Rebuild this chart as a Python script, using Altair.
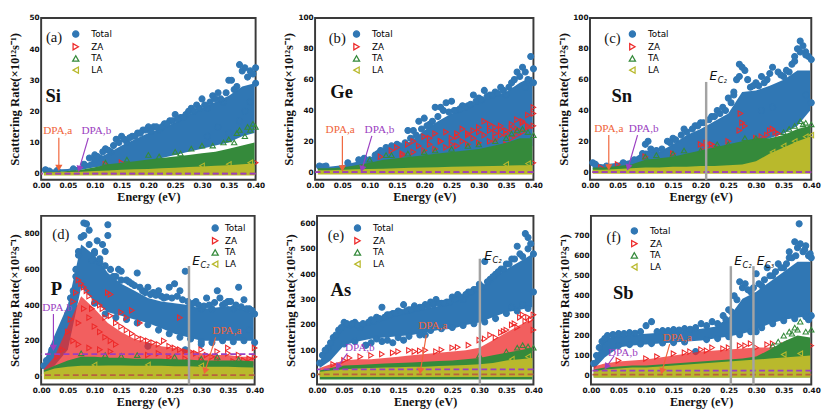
import math
import altair as alt
import pandas as pd

# ---------------- shared values ----------------
E = [0.005, 0.025, 0.05, 0.075, 0.1, 0.125, 0.15, 0.175, 0.2, 0.225, 0.25, 0.275, 0.3, 0.325, 0.35, 0.375, 0.398]
XTICKS = [0.0, 0.05, 0.1, 0.15, 0.2, 0.25, 0.3, 0.35, 0.4]
SERIES = ["Total", "ZA", "TA", "LA"]
COLORS = ["#3077b4", "#ee2a2a", "#358a3b", "#b9b92c"]
FILLS = ["#3077b4", "transparent", "transparent", "transparent"]
SHAPES = ["circle", "triangle-right", "triangle-up", "triangle-left"]
ORANGE = "#f0643a"
PURPLE = "#9b3fc1"
BROWN = "#b8623e"
GRAY = "#a3a3a3"
YTITLE = "Scattering Rate(×10¹²s⁻¹)"

# ---------------- (a) Si ----------------
si_total_lo = [0.5, 0.5, 0.8, 1.2, 2, 2.5, 3, 3.5, 4, 5, 6, 7, 8, 9, 10, 12, 13]
si_total_hi = [1.5, 1.3, 1.5, 2.5, 4.5, 6.5, 9, 11, 13, 14.5, 16.5, 19, 21, 23, 25, 28, 29]
si_total_x = [0.008, 0.015, 0.03, 0.06, 0.08, 0.09, 0.1, 0.11, 0.12, 0.13, 0.14, 0.15, 0.16, 0.17, 0.18,
              0.19, 0.2, 0.21, 0.22, 0.23, 0.24, 0.25, 0.26, 0.27, 0.28, 0.29, 0.3, 0.31, 0.32, 0.33,
              0.34, 0.35, 0.355, 0.36, 0.365, 0.37, 0.375, 0.38, 0.385, 0.39, 0.395, 0.4, 0.4, 0.39, 0.38,
              0.37, 0.35, 0.33, 0.31]
si_total_y = [1.2, 0.8, 1, 1.5, 3, 5, 6, 5, 8, 7, 11, 12, 10, 12, 13,
              14, 15, 15, 14, 16, 17, 19, 18, 19, 21, 22, 24, 21, 25, 26,
              23, 30, 30, 27, 28, 35, 33, 34, 31, 33, 32, 34, 29, 23, 20,
              17, 13, 15, 12]
si_edge_x = [0.1, 0.105, 0.115, 0.125, 0.135, 0.145, 0.155, 0.165, 0.175, 0.185, 0.195, 0.205, 0.215,
             0.225, 0.235, 0.245, 0.255, 0.265, 0.275, 0.285, 0.295, 0.305, 0.315, 0.325, 0.335, 0.345]
si_edge_y = [4.5, 5.5, 7, 7.5, 9, 10, 11, 11.5, 12, 13, 14, 13.5, 15,
             15, 16, 17, 17.5, 18, 20, 20, 21, 22, 23, 24, 24, 26]
si_za_x = [0.12, 0.15, 0.2, 0.28, 0.3, 0.33, 0.36, 0.37, 0.375, 0.38, 0.39, 0.4]
si_za_y = [3, 3.5, 2.5, 3, 1.8, 2.5, 2.5, 2, 2.2, 2.8, 3.2, 3.5]
si_ta_lo = [0, 0, 0, 0, 0, 0, 0, 0, 0, 0, 0, 0, 0, 0, 0, 0, 0]
si_ta_hi = [0.6, 0.6, 0.8, 1.2, 2, 3, 3.5, 4, 4.5, 5, 5.5, 6, 6.5, 7, 8, 9, 10]
si_ta_x = [0.2, 0.25, 0.28, 0.3, 0.32, 0.34, 0.35, 0.36, 0.365, 0.37, 0.38, 0.385, 0.39, 0.395, 0.4,
           0.12, 0.16, 0.22, 0.26]
si_ta_y = [6, 7, 8, 9, 9, 10, 11, 10, 13, 14, 12, 15, 14, 16, 15,
           3.5, 4.5, 5.5, 6.5]
si_la_lo = [-0.6, -0.6, -0.6, -0.6, -0.6, -0.6, -0.6, -0.6, -0.6, -0.6, -0.6, -0.6, -0.6, -0.6, -0.6, -0.6, -0.6]
si_la_hi = [0.3, 0.4, 0.5, 0.6, 0.8, 1, 1.2, 1.4, 1.5, 1.7, 1.9, 2.1, 2.3, 2.5, 2.7, 3, 3.2]
si_la_x = [0.3, 0.35, 0.39]
si_la_y = [2.5, 3, 3.5]

# ---------------- (b) Ge ----------------
ge_total_lo = [1.5, 1.5, 2, 3, 4, 6, 7, 8, 9, 10, 11, 12, 13, 14, 15, 16, 17]
ge_total_hi = [4.5, 3.5, 4.5, 6.5, 9, 13, 16, 20, 27, 33, 38, 41, 46, 49, 52, 58, 62]
ge_total_x = [0.008, 0.015, 0.02, 0.06, 0.08, 0.09, 0.1, 0.12, 0.13, 0.14, 0.15, 0.17, 0.18, 0.19, 0.2,
              0.21, 0.22, 0.23, 0.24, 0.25, 0.26, 0.27, 0.28, 0.29, 0.3, 0.31, 0.32, 0.33, 0.34, 0.35,
              0.36, 0.365, 0.37, 0.375, 0.38, 0.385, 0.39, 0.395, 0.4, 0.4, 0.385]
ge_total_y = [4, 3.5, 4, 6, 8, 9, 8, 14, 16, 17, 18, 27, 27, 33, 35,
              31, 42, 42, 45, 46, 40, 43, 43, 50, 48, 53, 50, 52, 55, 50,
              58, 60, 65, 62, 68, 65, 60, 75, 67, 58, 55]
ge_edge_x = [0.11, 0.115, 0.125, 0.135, 0.145, 0.155, 0.165, 0.175, 0.185, 0.195, 0.205, 0.215, 0.225,
             0.235, 0.245, 0.255, 0.265, 0.275, 0.285, 0.295, 0.305, 0.315, 0.325, 0.335, 0.345, 0.355]
ge_edge_y = [11, 12, 13, 15, 16, 17, 19, 22, 24, 28, 30, 33, 36,
             40, 39, 40, 41, 42, 44, 46, 47, 49, 50, 51, 53, 55]
ge_za_x = [0.12, 0.14, 0.15, 0.16, 0.17, 0.18, 0.19, 0.2, 0.21, 0.22, 0.23, 0.24, 0.25, 0.26, 0.27,
           0.28, 0.29, 0.3, 0.31, 0.32, 0.33, 0.34, 0.35, 0.36, 0.37, 0.38, 0.39, 0.4, 0.4, 0.38,
           0.36, 0.34, 0.32, 0.3, 0.28, 0.26, 0.24, 0.22, 0.2, 0.18, 0.16, 0.3, 0.35, 0.4,
           0.33, 0.37, 0.39, 0.35,
           0.25, 0.27, 0.29, 0.31, 0.33, 0.35, 0.37, 0.39, 0.26, 0.28, 0.3, 0.32, 0.34, 0.36, 0.38, 0.4,
           0.21, 0.23]
ge_za_y = [10, 14, 16, 12, 18, 20, 17, 23, 22, 25, 20, 26, 22, 25, 28,
           24, 27, 26, 33, 31, 29, 30, 25, 28, 34, 32, 37, 38, 42, 26,
           22, 24, 20, 19, 18, 17, 16, 15, 14, 13, 11, 4, 5, 6,
           21, 24, 30, 18,
           18, 20, 22, 24, 25, 27, 28, 29, 23, 25, 29, 27, 28, 31, 33, 30,
           18, 20]
ge_ta_lo = [0, 0, 0, 0, 0, 0, 0, 0, 0, 0, 0, 0, 0, 0, 0, 0, 0]
ge_ta_hi = [2.5, 2.5, 3, 4.5, 6, 8, 9, 10, 11, 12, 13, 14, 15, 17, 19, 22, 22]
ge_ta_x = [0.1, 0.13, 0.2, 0.25, 0.3, 0.33, 0.35, 0.36, 0.37, 0.38, 0.39, 0.4, 0.14, 0.17, 0.22, 0.28]
ge_ta_y = [8, 11, 13, 15, 18, 20, 22, 25, 27, 28, 26, 24, 11, 12, 14, 17]
ge_la_lo = [-1.5, -1.5, -1.5, -1.5, -1.5, -1.5, -1.5, -1.5, -1.5, -1.5, -1.5, -1.5, -1.5, -1.5, -1.5, -1.5, -1.5]
ge_la_hi = [1.2, 1.2, 1.5, 1.8, 2, 2.2, 2.5, 2.8, 3, 3.2, 3.4, 3.6, 3.8, 4, 4.2, 4.5, 4.5]
ge_la_x = [0.35, 0.39]
ge_la_y = [5, 5.5]

# ---------------- (c) Sn ----------------
sn_total_lo = [2, 2, 3, 4, 6, 7, 8, 10, 12, 14, 16, 18, 20, 22, 25, 30, 40]
sn_total_hi = [6, 5, 6, 8, 14, 13, 18, 24, 28, 33, 38, 52, 53, 56, 60, 66, 66]
sn_total_x = [0.005, 0.01, 0.03, 0.06, 0.08, 0.095, 0.1, 0.105, 0.12, 0.14, 0.15, 0.17, 0.19, 0.2, 0.22,
              0.23, 0.24, 0.25, 0.26, 0.265, 0.27, 0.275, 0.28, 0.29, 0.3, 0.31, 0.32, 0.33, 0.34, 0.35,
              0.36, 0.37, 0.375, 0.38, 0.385, 0.39, 0.395, 0.4, 0.4, 0.39, 0.33, 0.31]
sn_total_y = [6, 5, 4, 6, 8, 12, 18, 20, 14, 20, 22, 28, 30, 32, 36,
              40, 42, 48, 50, 60, 70, 68, 66, 55, 58, 62, 60, 68, 65, 62,
              65, 72, 80, 85, 82, 78, 75, 73, 45, 50, 42, 40]
sn_edge_x = [0.11, 0.13, 0.145, 0.155, 0.165, 0.175, 0.185, 0.195, 0.205, 0.215, 0.225, 0.235, 0.245,
             0.255, 0.26, 0.27, 0.285, 0.295, 0.305, 0.315, 0.325, 0.345, 0.355, 0.365, 0.37, 0.38, 0.39]
sn_edge_y = [15, 15, 19, 21, 24, 26, 28, 30, 32, 34, 36, 38, 40,
             45, 52, 62, 60, 56, 56, 58, 64, 63, 66, 70, 75, 78, 76]
sn_za_x = [0.02, 0.05, 0.1, 0.15, 0.2, 0.21, 0.215, 0.22, 0.25, 0.27, 0.272, 0.275, 0.28, 0.3, 0.32,
           0.325, 0.33, 0.335, 0.35, 0.36, 0.37, 0.38, 0.3, 0.25, 0.205, 0.225, 0.31, 0.34]
sn_za_y = [3, 5, 10, 12, 18, 19, 17, 18, 20, 27, 38, 32, 30, 22, 24,
           27, 28, 26, 20, 22, 20, 22, 3, 2, 16, 17, 23, 25]
sn_ta_lo = [0, 0, 0, 0, 0, 0, 0, 0, 0, 0, 0, 0, 0, 0, 0, 0, 0]
sn_ta_hi = [3, 3, 4, 5, 8, 9, 10, 12, 14, 16, 18, 20, 22, 22, 24, 28, 30]
sn_ta_x = [0.1, 0.15, 0.2, 0.25, 0.28, 0.3, 0.35, 0.36, 0.37, 0.38, 0.385, 0.39, 0.4, 0.12, 0.17, 0.23]
sn_ta_y = [10, 12, 14, 18, 22, 22, 26, 28, 30, 33, 31, 32, 31, 11, 14, 18]
sn_la_lo = [-1, -1, -1, -1, -1, -1, -1, -1, -1, -1, -1, -1, -1, -1, -1, -1, -1]
sn_la_hi = [1.5, 1.5, 2, 2.5, 3, 3, 3.5, 3.5, 4, 4, 4.5, 5, 7, 12, 16, 20, 23]
sn_la_x = [0.33, 0.35, 0.37, 0.39, 0.4]
sn_la_y = [13, 17, 20, 23, 24]

# ---------------- (d) P ----------------
p_total_lo = [30, 60, 150, 500, 420, 360, 340, 320, 300, 270, 240, 220, 200, 200, 200, 200, 200]
p_total_hi = [80, 230, 400, 740, 680, 580, 520, 480, 440, 420, 410, 400, 380, 385, 395, 380, 350]
p_total_x = [0.005, 0.01, 0.02, 0.03, 0.04, 0.05, 0.06, 0.065, 0.07, 0.075, 0.08, 0.085, 0.09, 0.095, 0.1,
             0.105, 0.11, 0.115, 0.12, 0.125, 0.125, 0.13, 0.14, 0.145, 0.15, 0.16, 0.17, 0.18, 0.19, 0.2,
             0.21, 0.22, 0.23, 0.24, 0.25, 0.26, 0.27, 0.28, 0.29, 0.3, 0.31, 0.32, 0.33, 0.335, 0.34,
             0.35, 0.36, 0.37, 0.38, 0.39, 0.4, 0.27, 0.2, 0.3, 0.39]
p_total_y = [60, 90, 150, 200, 260, 350, 480, 560, 700, 780, 860, 855, 820, 650, 700,
             760, 640, 740, 700, 850, 790, 600, 560, 600, 590, 540, 520, 580, 480, 500,
             470, 480, 440, 500, 520, 480, 590, 400, 420, 380, 440, 380, 480, 440, 400,
             420, 380, 500, 430, 380, 350, 150, 170, 180, 260]
p_edge_x = [0.055, 0.065, 0.07, 0.08, 0.09, 0.1, 0.11, 0.12, 0.135, 0.15, 0.165, 0.175, 0.185, 0.195,
            0.205, 0.215, 0.225, 0.235, 0.245, 0.255, 0.265, 0.275, 0.285, 0.295, 0.305, 0.315, 0.325,
            0.345, 0.355, 0.365, 0.375, 0.385, 0.395,
            0.1, 0.12, 0.14, 0.16, 0.18, 0.2, 0.22, 0.24, 0.26, 0.28, 0.3, 0.32, 0.34, 0.36, 0.38, 0.4]
p_edge_y = [440, 600, 680, 790, 740, 690, 660, 620, 560, 540, 530, 510, 500, 470,
            460, 455, 450, 445, 440, 450, 430, 420, 410, 400, 395, 400, 415,
            410, 420, 400, 390, 380, 370,
            410, 350, 330, 320, 300, 290, 260, 240, 220, 210, 195, 190, 200, 195, 200, 190]
p_za_lo = [25, 40, 60, 80, 90, 90, 90, 80, 80, 70, 70, 60, 60, 60, 60, 60, 60]
p_za_hi = [40, 110, 280, 450, 380, 300, 250, 210, 190, 170, 160, 150, 130, 120, 120, 110, 110]
p_za_x = [0.03, 0.04, 0.05, 0.055, 0.06, 0.065, 0.07, 0.075, 0.08, 0.085, 0.09, 0.095, 0.1, 0.11, 0.115,
          0.12, 0.125, 0.13, 0.13, 0.14, 0.15, 0.15, 0.16, 0.16, 0.17, 0.17, 0.18, 0.185, 0.19, 0.2,
          0.21, 0.22, 0.23, 0.24, 0.25, 0.26, 0.26, 0.27, 0.28, 0.29, 0.3, 0.31, 0.32, 0.33, 0.35,
          0.35, 0.37, 0.39, 0.4, 0.4,
          0.06, 0.07, 0.08, 0.09, 0.1, 0.11, 0.12, 0.13, 0.14, 0.07, 0.09, 0.11, 0.13, 0.2, 0.22,
          0.24, 0.27, 0.3, 0.33, 0.36, 0.38]
p_za_y = [110, 150, 250, 320, 420, 470, 540, 520, 500, 480, 450, 380, 420, 400, 380,
          330, 470, 460, 340, 300, 280, 360, 260, 330, 240, 370, 220, 300, 210, 200,
          190, 180, 200, 170, 160, 330, 150, 140, 140, 130, 150, 120, 110, 140, 130,
          160, 120, 100, 160, 110,
          200, 300, 380, 330, 280, 250, 220, 200, 180, 180, 160, 150, 140, 120, 130,
          110, 100, 90, 95, 85, 90]
p_ta_lo = [15, 20, 25, 25, 25, 25, 25, 25, 25, 25, 25, 25, 25, 25, 25, 25, 25]
p_ta_hi = [35, 60, 90, 110, 110, 105, 105, 100, 100, 100, 95, 95, 90, 90, 90, 90, 85]
p_ta_x = [0.075, 0.12, 0.15, 0.18, 0.25, 0.3, 0.33, 0.37]
p_ta_y = [130, 120, 115, 120, 110, 100, 110, 95]
p_la_lo = [-15, -15, -15, -15, -15, -15, -15, -15, -15, -15, -15, -15, -15, -15, -15, -15, -15]
p_la_hi = [25, 45, 55, 60, 60, 62, 62, 60, 60, 60, 58, 58, 55, 55, 55, 52, 50]
p_la_x = [0.1, 0.2, 0.3]
p_la_y = [65, 65, 60]

# ---------------- (e) As ----------------
as_total_lo = [30, 60, 120, 135, 145, 150, 155, 160, 170, 180, 185, 200, 210, 230, 250, 260, 270]
as_total_hi = [55, 140, 200, 195, 210, 225, 240, 255, 265, 275, 290, 315, 345, 385, 420, 450, 480]
as_total_x = [0.005, 0.01, 0.02, 0.03, 0.04, 0.05, 0.06, 0.07, 0.08, 0.09, 0.1, 0.11, 0.12, 0.13, 0.14,
              0.15, 0.16, 0.17, 0.18, 0.19, 0.2, 0.21, 0.22, 0.23, 0.24, 0.25, 0.26, 0.27, 0.28, 0.29,
              0.3, 0.31, 0.32, 0.33, 0.34, 0.35, 0.36, 0.37, 0.38, 0.385, 0.39, 0.395, 0.4, 0.4, 0.09,
              0.1, 0.12, 0.14, 0.16, 0.2, 0.38, 0.36]
as_total_y = [50, 80, 110, 150, 180, 210, 200, 210, 190, 120, 220, 230, 270, 240, 245,
              255, 280, 260, 275, 270, 280, 290, 300, 285, 290, 310, 320, 300, 330, 340,
              360, 450, 380, 400, 420, 440, 460, 510, 470, 560, 545, 520, 480, 330, 120,
              130, 135, 130, 140, 160, 280, 270]
as_edge_x = [0.015, 0.025, 0.035, 0.045, 0.055, 0.065, 0.075, 0.085, 0.095, 0.105, 0.115, 0.125, 0.135,
             0.145, 0.155, 0.165, 0.175, 0.185, 0.195, 0.205, 0.215, 0.225, 0.235, 0.245, 0.255, 0.265,
             0.275, 0.285, 0.295, 0.305, 0.315, 0.325, 0.335, 0.345, 0.355, 0.365, 0.375, 0.39,
             0.05, 0.07, 0.11, 0.13, 0.15, 0.17, 0.19,
             0.21, 0.23, 0.25, 0.27, 0.29, 0.31, 0.33, 0.35, 0.37, 0.39]
as_edge_y = [100, 130, 160, 190, 205, 205, 200, 205, 210, 215, 225, 230, 240,
             245, 250, 255, 260, 265, 270, 275, 280, 285, 285, 290, 300, 310,
             320, 330, 340, 350, 370, 390, 410, 420, 440, 460, 480, 500,
             125, 135, 145, 140, 150, 155, 160,
             178, 185, 190, 198, 205, 212, 225, 245, 255, 265]
as_za_lo = [10, 15, 25, 30, 30, 30, 30, 30, 35, 35, 35, 40, 40, 45, 50, 55, 60]
as_za_hi = [30, 45, 60, 65, 65, 70, 75, 80, 85, 90, 95, 100, 110, 140, 170, 200, 220]
as_za_x = [0.03, 0.05, 0.06, 0.08, 0.1, 0.12, 0.15, 0.17, 0.18, 0.2, 0.22, 0.25, 0.28, 0.3, 0.32,
           0.33, 0.34, 0.35, 0.36, 0.37, 0.375, 0.38, 0.39, 0.395, 0.4, 0.4,
           0.14, 0.19, 0.23, 0.26, 0.31, 0.345, 0.365, 0.385]
as_za_y = [45, 60, 70, 75, 80, 85, 95, 100, 95, 100, 95, 110, 120, 140, 160,
           150, 170, 180, 200, 190, 230, 240, 230, 220, 240, 180,
           90, 98, 102, 112, 145, 175, 205, 215]
as_ta_lo = [-15, -15, -15, -15, -15, -15, -15, -15, -15, -15, -15, -15, -15, -15, -15, -15, -15]
as_ta_hi = [20, 30, 40, 42, 45, 48, 50, 52, 55, 58, 60, 65, 70, 80, 90, 100, 110]
as_ta_x = [0.3, 0.35, 0.37, 0.38, 0.39, 0.4]
as_ta_y = [80, 95, 110, 120, 115, 110]
as_la_lo = [-5, -5, -5, -5, -5, -5, -5, -5, -5, -5, -5, -5, -5, -5, -5, -5, -5]
as_la_hi = [15, 20, 25, 28, 30, 32, 33, 35, 35, 38, 40, 42, 45, 50, 60, 65, 70]
as_la_x = [0.36, 0.39]
as_la_y = [65, 75]

# ---------------- (f) Sb ----------------
sb_total_lo = [30, 90, 140, 150, 155, 160, 165, 170, 175, 185, 195, 210, 230, 260, 280, 290, 300]
sb_total_hi = [70, 185, 200, 205, 210, 215, 220, 225, 235, 245, 290, 385, 420, 470, 520, 570, 570]
sb_total_x = [0.005, 0.01, 0.02, 0.03, 0.05, 0.07, 0.09, 0.1, 0.11, 0.13, 0.15, 0.17, 0.19, 0.2, 0.22,
              0.24, 0.25, 0.26, 0.27, 0.275, 0.28, 0.29, 0.3, 0.31, 0.32, 0.33, 0.34, 0.35, 0.36, 0.37,
              0.375, 0.378, 0.38, 0.39, 0.395, 0.4, 0.4, 0.19, 0.3, 0.395]
sb_total_y = [60, 100, 170, 200, 210, 215, 220, 250, 270, 225, 230, 235, 240, 260, 270,
              300, 330, 400, 470, 440, 460, 420, 510, 450, 540, 500, 560, 540, 620, 670,
              640, 760, 660, 650, 600, 590, 300, 120, 220, 280]
sb_edge_x = [0.015, 0.025, 0.04, 0.06, 0.08, 0.12, 0.14, 0.16, 0.18, 0.21, 0.23, 0.245,
             0.255, 0.265, 0.285, 0.295, 0.305, 0.315, 0.325, 0.335, 0.345, 0.355, 0.365, 0.385,
             0.372, 0.388, 0.398, 0.36,
             0.05, 0.07, 0.09, 0.11, 0.13, 0.15, 0.17, 0.21, 0.23, 0.25, 0.27, 0.29, 0.31, 0.33,
             0.35, 0.37, 0.39]
sb_edge_y = [140, 185, 205, 210, 212, 220, 225, 228, 232, 250, 260, 280,
             320, 380, 430, 440, 460, 480, 500, 520, 540, 560, 590, 620,
             600, 630, 610, 590,
             150, 155, 158, 160, 163, 165, 168, 180, 185, 195, 205, 220, 240, 260,
             275, 285, 295]
sb_za_lo = [20, 30, 35, 40, 40, 40, 45, 45, 50, 50, 55, 55, 60, 60, 60, 60, 60]
sb_za_hi = [45, 60, 70, 75, 80, 90, 100, 110, 120, 125, 130, 135, 140, 140, 150, 150, 160]
sb_za_x = [0.05, 0.1, 0.15, 0.18, 0.2, 0.22, 0.25, 0.27, 0.29, 0.3, 0.33, 0.35, 0.37, 0.38, 0.4,
           0.12, 0.17, 0.21, 0.24, 0.28, 0.32, 0.36, 0.39]
sb_za_y = [75, 85, 110, 120, 130, 140, 140, 150, 160, 140, 160, 150, 170, 160, 150,
           95, 115, 125, 135, 150, 155, 160, 165]
sb_ta_lo = [-10, -10, -10, -10, -10, -10, -10, -10, -10, -10, -10, -10, -10, -10, -10, -10, -10]
sb_ta_hi = [30, 40, 45, 50, 50, 55, 60, 65, 70, 75, 80, 85, 95, 130, 170, 200, 190]
sb_ta_x = [0.33, 0.34, 0.35, 0.36, 0.365, 0.37, 0.375, 0.38, 0.39, 0.4]
sb_ta_y = [150, 170, 200, 220, 210, 240, 230, 270, 220, 230]
sb_la_lo = [-10, -10, -10, -10, -10, -10, -10, -10, -10, -10, -10, -10, -10, -10, -10, -10, -10]
sb_la_hi = [20, 30, 35, 40, 40, 45, 50, 55, 60, 65, 70, 75, 80, 85, 90, 95, 100]
sb_la_x = [0.35, 0.38]
sb_la_y = [105, 110]

# ---------------- per-panel settings ----------------
panels = {
    "a": dict(name="Si", label="(a)", w=220, h=166, ydom=(-2, 50), yticks=[0, 10, 20, 30, 40, 50],
              bands={"Total": (si_total_lo, si_total_hi), "TA": (si_ta_lo, si_ta_hi), "LA": (si_la_lo, si_la_hi)},
              points={"Total": (si_total_x + si_edge_x, si_total_y + si_edge_y), "ZA": (si_za_x, si_za_y),
                      "TA": (si_ta_x, si_ta_y), "LA": (si_la_x, si_la_y)},
              dpa=(0.0, 0.0), label_pos=(0.009, 44), name_pos=(0.008, 25),
              dpa_text=[(0.031, 13.5), (0.103, 13.5)],
              arrows=[(0.033, 11.5, 0.033, 1.8), (0.088, 11.5, 0.071, 1.5)],
              ec=[], leg=(35, 17, 0, 11.5)),
    "b": dict(name="Ge", label="(b)", w=224, h=166, ydom=(-5, 100), yticks=[0, 20, 40, 60, 80, 100],
              bands={"Total": (ge_total_lo, ge_total_hi), "TA": (ge_ta_lo, ge_ta_hi), "LA": (ge_la_lo, ge_la_hi)},
              points={"Total": (ge_total_x + ge_edge_x, ge_total_y + ge_edge_y), "ZA": (ge_za_x, ge_za_y),
                      "TA": (ge_ta_x, ge_ta_y), "LA": (ge_la_x, ge_la_y)},
              dpa=(0.0, 0.0), label_pos=(0.025, 87), name_pos=(0.028, 52),
              dpa_text=[(0.046, 27), (0.118, 27)],
              arrows=[(0.05, 23.5, 0.05, 2.4), (0.104, 23.5, 0.086, 2)],
              ec=[], leg=(42, 17, 0, 11.5)),
    "c": dict(name="Sn", label="(c)", w=227, h=166, ydom=(-5, 100), yticks=[0, 20, 40, 60, 80, 100],
              bands={"Total": (sn_total_lo, sn_total_hi), "TA": (sn_ta_lo, sn_ta_hi), "LA": (sn_la_lo, sn_la_hi)},
              points={"Total": (sn_total_x + sn_edge_x, sn_total_y + sn_edge_y), "ZA": (sn_za_x, sn_za_y),
                      "TA": (sn_ta_x, sn_ta_y), "LA": (sn_la_x, sn_la_y)},
              dpa=(0.0, 0.0), label_pos=(0.026, 87), name_pos=(0.039, 49),
              dpa_text=[(0.034, 28), (0.097, 28)],
              arrows=[(0.034, 24, 0.034, 3), (0.086, 24, 0.069, 3)],
              ec=[(0.21, 58.5, 0.216, 62, "C₂")], leg=(43, 17, 0, 11.5)),
    "d": dict(name="P", label="(d)", w=219, h=173, ydom=(-45, 900), yticks=[0, 200, 400, 600, 800],
              bands={"Total": (p_total_lo, p_total_hi), "ZA": (p_za_lo, p_za_hi),
                     "TA": (p_ta_lo, p_ta_hi), "LA": (p_la_lo, p_la_hi)},
              points={"Total": (p_total_x + p_edge_x, p_total_y + p_edge_y), "ZA": (p_za_x, p_za_y),
                      "TA": (p_ta_x, p_ta_y), "LA": (p_la_x, p_la_y)},
              dpa=(8, 125), label_pos=(0.021, 795), name_pos=(0.018, 490),
              dpa_text=[(0.348, 252), (0.03, 385)],
              arrows=[(0.327, 219, 0.307, 30), (0.023, 350, 0.023, 160)],
              ec=[(0.277, 619, 0.283, 645, "C₂")], leg=(178, 13, 0, 5.5)),
    "e": dict(name="As", label="(e)", w=222, h=173, ydom=(-35, 630), yticks=[0, 100, 200, 300, 400, 500, 600],
              bands={"Total": (as_total_lo, as_total_hi), "ZA": (as_za_lo, as_za_hi),
                     "TA": (as_ta_lo, as_ta_hi), "LA": (as_la_lo, as_la_hi)},
              points={"Total": (as_total_x + as_edge_x, as_total_y + as_edge_y), "ZA": (as_za_x, as_za_y),
                      "TA": (as_ta_x, as_ta_y), "LA": (as_la_x, as_la_y)},
              dpa=(5, 25), label_pos=(0.02, 554), name_pos=(0.025, 338),
              dpa_text=[(0.214, 196), (0.079, 108)],
              arrows=[(0.202, 161, 0.191, 18), (0.056, 88, 0.038, 35)],
              ec=[(0.301, 461, 0.309, 470, "C₂")], leg=(41, 13, 0, 11.5)),
    "f": dict(name="Sb", label="(f)", w=226, h=173, ydom=(-45, 800), yticks=[0, 100, 200, 300, 400, 500, 600, 700],
              bands={"Total": (sb_total_lo, sb_total_hi), "ZA": (sb_za_lo, sb_za_hi),
                     "TA": (sb_ta_lo, sb_ta_hi), "LA": (sb_la_lo, sb_la_hi)},
              points={"Total": (sb_total_x + sb_edge_x, sb_total_y + sb_edge_y), "ZA": (sb_za_x, sb_za_y),
                      "TA": (sb_ta_x, sb_ta_y), "LA": (sb_la_x, sb_la_y)},
              dpa=(5, 25), label_pos=(0.028, 695), name_pos=(0.04, 411),
              dpa_text=[(0.157, 186), (0.058, 113)],
              arrows=[(0.143, 157, 0.129, 22), (0.042, 98, 0.028, 44)],
              ec=[(0.254, 548, 0.26, 572, "C₂"), (0.295, 548, 0.301, 572, "C₃")], leg=(44, 16, 0, 11.5)),
}
BAND_OPACITY = {"Total": 1.0, "ZA": 0.75, "TA": 1.0, "LA": 1.0}


def make_panel(p):
    W, H = p["w"], p["h"]
    ymin, ymax = p["ydom"]
    xs = alt.Scale(domain=[0, 0.4], nice=False, zero=False)
    ys = alt.Scale(domain=[ymin, ymax], nice=False, zero=False)
    xax = alt.Axis(values=XTICKS, format=".2f", title="Energy (eV)", labelFlush=False)
    yax = alt.Axis(values=p["yticks"], title=YTITLE)
    X = alt.X("E:Q", scale=xs, axis=xax)
    Y = alt.Y("rate:Q", scale=ys, axis=yax)
    cx, cy, rp, lo = p["leg"]
    leg = alt.Legend(title=None, orient="none", legendX=cx - 4, legendY=cy - 5, padding=0,
                     labelFont="DejaVu Sans", labelFontSize=9, labelColor="#000",
                     symbolSize=40, symbolStrokeWidth=1.3, rowPadding=rp, labelOffset=lo)
    shape = alt.Shape("series:N", scale=alt.Scale(domain=SERIES, range=SHAPES), legend=leg)
    fill = alt.Fill("series:N", scale=alt.Scale(domain=SERIES, range=FILLS), legend=leg)
    stroke = alt.Stroke("series:N", scale=alt.Scale(domain=SERIES, range=COLORS), legend=leg)

    layers = []
    for i, s in enumerate(SERIES):
        if s in p["bands"]:
            blo, bhi = p["bands"][s]
            bdf = pd.DataFrame({"E": E, "rate": blo, "rate2": bhi})
            layers.append(alt.Chart(bdf).mark_area(color=COLORS[i], opacity=BAND_OPACITY[s])
                          .encode(x=X, y=Y, y2=alt.Y2("rate2:Q")))
        px, py = p["points"][s]
        pdf = pd.DataFrame({"E": px, "rate": py, "series": [s] * len(px)})
        layers.append(alt.Chart(pdf).mark_point(size=38 if s == "Total" else 30, strokeWidth=1.1, opacity=1)
                      .encode(x=X, y=Y, shape=shape, fill=fill, stroke=stroke))

    # DPA dashed levels
    ddf = pd.DataFrame({"rate": [p["dpa"][0], p["dpa"][1]], "c": [BROWN, PURPLE]})
    layers.append(alt.Chart(ddf).mark_rule(strokeDash=[6, 3.5], strokeWidth=1.8)
                  .encode(y=Y, color=alt.Color("c:N", scale=None)))

    # band-edge lines
    if p["ec"]:
        vdf = pd.DataFrame({"E": [e[0] for e in p["ec"]], "rate": [ymin for _ in p["ec"]],
                            "rate2": [e[1] for e in p["ec"]]})
        layers.append(alt.Chart(vdf).mark_rule(color=GRAY, strokeWidth=2.5)
                      .encode(x=X, y=Y, y2=alt.Y2("rate2:Q")))
        ldf = pd.DataFrame({"E": [e[2] for e in p["ec"]], "rate": [e[3] for e in p["ec"]],
                            "main": ["E" for _ in p["ec"]], "sub": [e[4] for e in p["ec"]]})
        layers.append(alt.Chart(ldf).mark_text(font="DejaVu Sans", fontStyle="italic", fontSize=12.5,
                                               align="left", baseline="middle", color="#111")
                      .encode(x=X, y=Y, text="main:N"))
        layers.append(alt.Chart(ldf).mark_text(font="DejaVu Sans", fontStyle="italic", fontSize=8.5,
                                               align="left", baseline="middle", color="#111", dx=8.5, dy=4)
                      .encode(x=X, y=Y, text="sub:N"))

    # arrows
    xpx = W / 0.4
    ypx = H / (ymax - ymin)
    angs = []
    for (x1, y1, x2, y2) in p["arrows"]:
        ux = (x2 - x1) * xpx
        uy = -(y2 - y1) * ypx
        angs.append((math.degrees(math.atan2(-ux, uy)) + 360) % 360)
    adf = pd.DataFrame({"E": [a[0] for a in p["arrows"]], "rate": [a[1] for a in p["arrows"]],
                        "E2": [a[2] for a in p["arrows"]], "rate2": [a[3] for a in p["arrows"]],
                        "c": [ORANGE, PURPLE], "ang": angs})
    layers.append(alt.Chart(adf).mark_rule(strokeWidth=1.2)
                  .encode(x=X, y=Y, x2=alt.X2("E2:Q"), y2=alt.Y2("rate2:Q"),
                          color=alt.Color("c:N", scale=None)))
    layers.append(alt.Chart(adf).mark_point(shape="triangle-down", filled=True, size=55, opacity=1)
                  .encode(x=alt.X("E2:Q", scale=xs, axis=xax), y=alt.Y("rate2:Q", scale=ys, axis=yax),
                          color=alt.Color("c:N", scale=None), angle=alt.Angle("ang:Q", scale=None)))

    tdf = pd.DataFrame({"E": [t[0] for t in p["dpa_text"]], "rate": [t[1] for t in p["dpa_text"]],
                        "label": ["DPA,a", "DPA,b"], "c": [ORANGE, PURPLE]})
    layers.append(alt.Chart(tdf).mark_text(font="Liberation Serif", fontSize=11.5, align="center",
                                           baseline="middle")
                  .encode(x=X, y=Y, text="label:N", color=alt.Color("c:N", scale=None)))

    pl = pd.DataFrame({"E": [p["label_pos"][0]], "rate": [p["label_pos"][1]], "t": [p["label"]]})
    layers.append(alt.Chart(pl).mark_text(font="Liberation Serif", fontSize=15, align="left",
                                          baseline="middle", color="#111")
                  .encode(x=X, y=Y, text="t:N"))
    nl = pd.DataFrame({"E": [p["name_pos"][0]], "rate": [p["name_pos"][1]], "t": [p["name"]]})
    layers.append(alt.Chart(nl).mark_text(font="Liberation Serif", fontSize=19, fontWeight="bold",
                                          align="left", baseline="middle", color="#111")
                  .encode(x=X, y=Y, text="t:N"))

    return alt.layer(*layers).properties(width=W, height=H)


IND = dict(shape="independent", fill="independent", stroke="independent")


def hc(*charts, spacing):
    return alt.hconcat(*charts, spacing=spacing).resolve_scale(**IND).resolve_legend(**IND)


ch = {k: make_panel(v) for k, v in panels.items()}
row1 = hc(ch["a"], hc(ch["b"], ch["c"], spacing=13), spacing=16)
row2 = hc(ch["d"], hc(ch["e"], ch["f"], spacing=14), spacing=19)

chart = (
    alt.vconcat(row1, row2, spacing=11)
    .resolve_scale(**IND).resolve_legend(**IND)
    .properties(padding=0)
    .configure_view(stroke="#3a3a3a", strokeWidth=2)
    .configure_axis(grid=False, domain=False, ticks=False, labelFont="DejaVu Sans", labelFontWeight="bold",
                    labelFontSize=7.5, labelColor="#111", labelPadding=2, titleFont="Liberation Serif",
                    titleFontWeight="bold", titleColor="#111")
    .configure_axisX(titleFontSize=12.5, titlePadding=2)
    .configure_axisY(titleFontSize=13, titlePadding=2, minExtent=18, maxExtent=18)
)

chart.save("out.html", embed_options={"renderer": "svg", "actions": False})
